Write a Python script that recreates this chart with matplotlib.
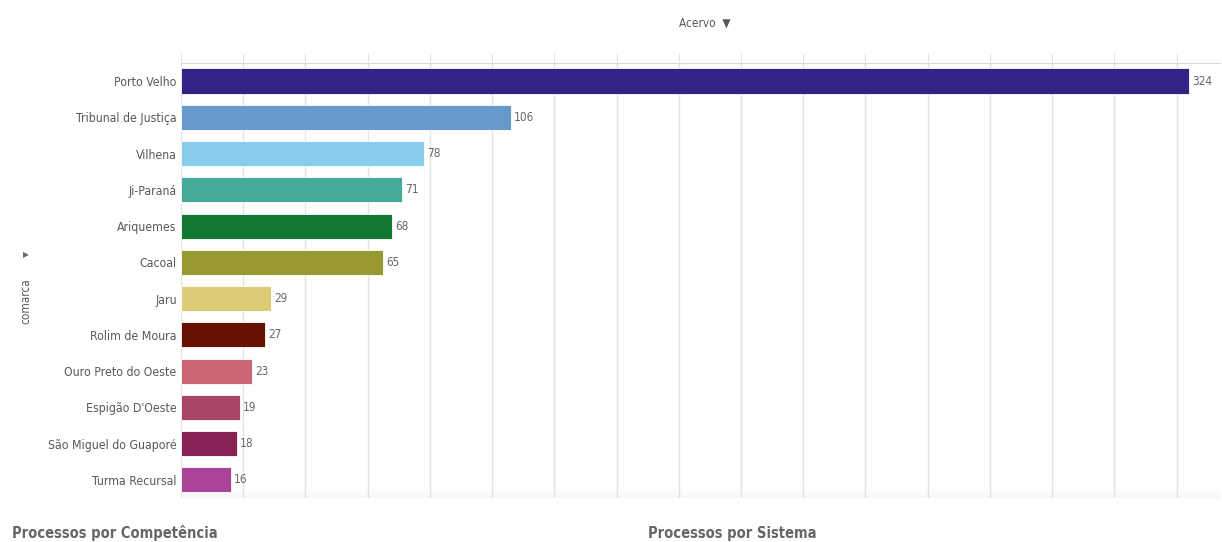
import matplotlib.pyplot as plt
import numpy as np

# dados
comarcas = ["Porto Velho", "Tribunal de Justiça", "Vilhena", "Ji-Paraná", "Ariquemes",
            "Cacoal", "Jaru", "Rolim de Moura", "Ouro Preto do Oeste", "Espigão D'Oeste",
            "São Miguel do Guaporé", "Turma Recursal"]
acervo = [324, 106, 78, 71, 68, 65, 29, 27, 23, 19, 18, 16]
cores = ["#332288", "#6699CC", "#88CCEE", "#44AA99", "#117733", "#999933",
         "#DDCC77", "#661100", "#CC6677", "#AA4466", "#882255", "#AA4499"]

# fonte estreita, parecida com a do painel
plt.rcParams['font.family'] = ['DejaVu Sans']
plt.rcParams['font.stretch'] = 'condensed'

fig = plt.figure(figsize=(12.22, 5.42), dpi=100)
ax = fig.add_axes([0.148, 0.081, 0.85, 0.803])

y = np.arange(len(comarcas))
ax.barh(y, acervo, height=0.69, color=cores, edgecolor='white', linewidth=0.6, zorder=3)

# valores ao lado das barras
for yi, v in zip(y, acervo):
    ax.text(v + 1.0, yi, str(v), va='center', ha='left', fontsize=8.5, color='#666666')

ax.set_xlim(0, 333.8)
ax.set_ylim(len(comarcas) - 0.5, -0.5)
ax.set_yticks(y)
ax.set_yticklabels(comarcas, fontsize=8.8, color='#595959')
ax.set_xticks(np.arange(0, 321, 20))
ax.xaxis.tick_top()
ax.tick_params(axis='x', length=7, color='#e0e0e0', labeltop=False, labelbottom=False)
ax.tick_params(axis='y', length=0, pad=3)
ax.grid(True, axis='x', color='#e3e3e3', linewidth=1, zorder=0)

for s in ['right', 'bottom', 'left']:
    ax.spines[s].set_visible(False)
ax.spines['top'].set_color('#d9d9d9')

# leve sombra no fim da area do grafico
grad = np.linspace(0, 1, 50).reshape(-1, 1)
ax.imshow(grad, extent=(0, 1, 0, 0.025), transform=ax.transAxes, cmap='Greys',
          vmin=0, vmax=12, aspect='auto', zorder=1, alpha=0.8)
ax.set_xlim(0, 333.8)
ax.set_ylim(len(comarcas) - 0.5, -0.5)

# textos da tela
fig.text(0.577, 0.958, "Acervo  ▼", ha='center', va='center', fontsize=8.5, color='#595959')
fig.text(0.021, 0.445, "comarca", rotation=90, ha='center', va='center', fontsize=8.5, color='#595959')
fig.text(0.021, 0.53, "▶", ha='center', va='center', fontsize=6, color='#666666')
fig.text(0.01, 0.016, "Processos por Competência", ha='left', va='center', fontsize=10.5,
         fontweight='bold', color='#666666')
fig.text(0.53, 0.016, "Processos por Sistema", ha='left', va='center', fontsize=10.5,
         fontweight='bold', color='#666666')

plt.savefig('out.png', dpi=100)
